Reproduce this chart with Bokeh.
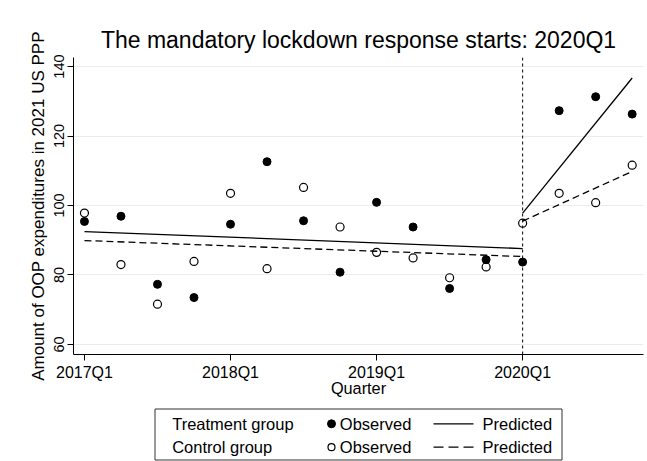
from bokeh.plotting import figure
from bokeh.models import Range1d, FixedTicker, Span
from bokeh.layouts import column
from bokeh.core.properties import value
from bokeh.embed import file_html
from bokeh.resources import INLINE

# ---------------- data ----------------
quarters = list(range(16))            # 0 = 2017Q1 ... 15 = 2020Q4
tick_positions = [0, 4, 8, 12]
tick_labels = ["2017Q1", "2018Q1", "2019Q1", "2020Q1"]
y_ticks = [60, 80, 100, 120, 140]

treat_obs = [95.4, 96.9, 77.3, 73.5, 94.6, 112.6, 95.6, 80.8,
             100.9, 93.8, 76.1, 84.4, 83.7, 127.3, 131.3, 126.3]
control_obs = [97.8, 83.0, 71.6, 83.9, 103.5, 81.8, 105.2, 93.8,
               86.5, 84.9, 79.2, 82.3, 94.9, 103.5, 100.8, 111.6]

pre_x = [0, 12]
post_x = [12, 15]
treat_pred_pre = [92.5, 87.6]
treat_pred_post = [97.8, 136.7]
control_pred_pre = [89.9, 85.3]
control_pred_post = [95.5, 109.8]

lockdown_start = 12

title_text = "The mandatory lockdown response starts: 2020Q1"
y_label = "Amount of OOP expenditures in 2021 US PPP"
x_label = "Quarter"
group_labels = ["Treatment group", "Control group"]
obs_label = "Observed"
pred_label = "Predicted"

FONT = "Liberation Sans"
W = 647
LEFT = 73
RIGHT = 4
H_MAIN = 404
H_LEG = 57

# ---------------- main plot ----------------
p = figure(width=W, height=H_MAIN,
           x_range=Range1d(-0.3, 15.31), y_range=Range1d(57.1, 142.6),
           output_backend="svg", toolbar_location=None,
           min_border_left=LEFT, min_border_right=RIGHT,
           min_border_top=57, min_border_bottom=H_MAIN - 354,
           background_fill_color="white", border_fill_color="white",
           outline_line_color=None)

p.title.text = title_text
p.title.text_font = FONT
p.title.text_font_size = "23px"
p.title.text_font_style = "normal"
p.title.text_color = "black"
p.title.align = "center"
p.title.standoff = 9

# grid
p.xgrid.visible = False
p.ygrid.ticker = FixedTicker(ticks=y_ticks)
p.ygrid.grid_line_color = "#e6eef0"
p.ygrid.grid_line_width = 1

# x axis
p.xaxis.ticker = FixedTicker(ticks=tick_positions)
p.xaxis.major_label_overrides = {t: l for t, l in zip(tick_positions, tick_labels)}
p.xaxis.axis_label = x_label
p.xaxis.axis_label_text_font = FONT
p.xaxis.axis_label_text_font_size = "16.3px"
p.xaxis.axis_label_text_font_style = "normal"
p.xaxis.axis_label_standoff = -5
p.xaxis.major_label_text_font = FONT
p.xaxis.major_label_text_font_size = "16px"
p.xaxis.major_label_standoff = 3

# y axis
p.yaxis.ticker = FixedTicker(ticks=y_ticks)
p.yaxis.major_label_orientation = "vertical"
p.yaxis.axis_label = y_label
p.yaxis.axis_label_text_font = FONT
p.yaxis.axis_label_text_font_size = "17px"
p.yaxis.axis_label_text_font_style = "normal"
p.yaxis.axis_label_standoff = 4
p.yaxis.major_label_text_font = FONT
p.yaxis.major_label_text_font_size = "14.5px"
p.yaxis.major_label_standoff = 3

for ax in (p.xaxis, p.yaxis):
    ax.axis_line_color = "black"
    ax.axis_line_width = 1
    ax.major_tick_line_color = "black"
    ax.major_tick_out = 6
    ax.major_tick_in = 0
    ax.minor_tick_line_color = None
    ax.major_label_text_color = "black"
    ax.axis_label_text_color = "black"

# vertical lockdown line
p.add_layout(Span(location=lockdown_start, dimension="height",
                  line_color="black", line_dash="3 3", line_width=1))

# predicted lines
p.line(pre_x, treat_pred_pre, line_color="black", line_width=1.3)
p.line(post_x, treat_pred_post, line_color="black", line_width=1.3)
p.line(pre_x, control_pred_pre, line_color="black", line_width=1.3, line_dash="7 4")
p.line(post_x, control_pred_post, line_color="black", line_width=1.3, line_dash="7 4")

# observed points
p.scatter(quarters, treat_obs, size=8, marker="circle",
          fill_color="black", line_color="black")
p.scatter(quarters, control_obs, size=8, marker="circle",
          fill_color=None, line_color="black", line_width=1.2)

# ---------------- legend panel (pixel coordinates) ----------------
leg = figure(width=W, height=H_LEG,
             x_range=Range1d(0, W - LEFT - RIGHT), y_range=Range1d(0, H_LEG),
             x_axis_type=None, y_axis_type=None,
             min_border_left=LEFT, min_border_right=RIGHT,
             min_border_top=0, min_border_bottom=0,
             output_backend="svg", toolbar_location=None,
             outline_line_color=None,
             background_fill_color="white", border_fill_color="white")
leg.grid.visible = False

bx0, bx1, by0, by1 = 81.5, 488.5, 1.5, 52.5
leg.line([bx0, bx1, bx1, bx0, bx0], [by0, by0, by1, by1, by0],
         line_color="#333333", line_width=1)

row_y = [37.7, 14.3]
fs = "16.5px"
leg.text(x=[98.7, 98.7], y=row_y, text=group_labels,
         text_font=value(FONT), text_font_size=fs,
         text_baseline="middle", text_align="left", text_color="black")
leg.scatter([258.0], [row_y[0]], size=8, marker="circle",
            fill_color="black", line_color="black")
leg.scatter([258.0], [row_y[1]], size=7, marker="circle",
            fill_color=None, line_color="black", line_width=1.2)
leg.text(x=[266.3, 266.3], y=row_y, text=[obs_label, obs_label],
         text_font=value(FONT), text_font_size=fs,
         text_baseline="middle", text_align="left", text_color="black")
leg.line([360.0, 400.0], [row_y[0], row_y[0]], line_color="black", line_width=1.3)
leg.line([360.0, 400.0], [row_y[1], row_y[1]], line_color="black", line_width=1.3,
         line_dash="10 5")
leg.text(x=[409.0, 409.0], y=row_y, text=[pred_label, pred_label],
         text_font=value(FONT), text_font_size=fs,
         text_baseline="middle", text_align="left", text_color="black")

layout = column(p, leg, spacing=0)

open("out.html", "w").write(file_html(layout, INLINE))
